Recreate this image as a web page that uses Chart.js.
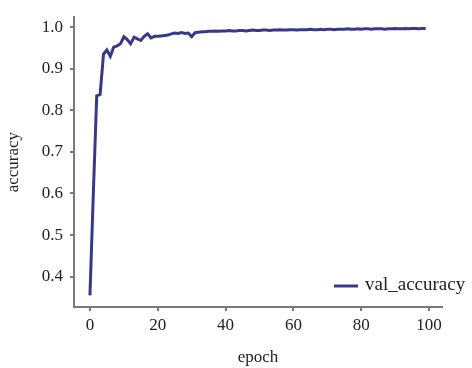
<!DOCTYPE html>
<html>
<head>
<meta charset="utf-8">
<script src="https://cdn.jsdelivr.net/npm/chart.js@4"></script>
<style>
  html, body { margin: 0; padding: 0; background: #fff; }
  #wrap { width: 472px; height: 368px; }
</style>
</head>
<body>
<div id="wrap"><canvas id="accChart" width="472" height="368"></canvas></div>
<script>
// epochs 0..99 and validation accuracy
const epochs = Array.from({ length: 100 }, (_, i) => i);
const valAccuracy = [
  0.355, 0.600, 0.835, 0.838, 0.935, 0.945, 0.930, 0.952, 0.955, 0.960,
  0.977, 0.970, 0.960, 0.976, 0.972, 0.968, 0.978, 0.984, 0.974, 0.978,
  0.978, 0.979, 0.980, 0.981, 0.984, 0.986, 0.985, 0.987, 0.985, 0.986,
  0.977, 0.987, 0.988, 0.989, 0.989, 0.990, 0.990, 0.991, 0.990, 0.991,
  0.991, 0.992, 0.991, 0.991, 0.992, 0.992, 0.991, 0.992, 0.993, 0.992,
  0.992, 0.993, 0.993, 0.992, 0.993, 0.993, 0.994, 0.993, 0.993, 0.994,
  0.994, 0.993, 0.994, 0.994, 0.994, 0.995, 0.994, 0.994, 0.995, 0.994,
  0.995, 0.995, 0.994, 0.995, 0.995, 0.995, 0.996, 0.995, 0.995, 0.996,
  0.995, 0.996, 0.996, 0.995, 0.996, 0.996, 0.996, 0.995, 0.996, 0.996,
  0.997, 0.996, 0.996, 0.997, 0.996, 0.997, 0.997, 0.996, 0.997, 0.997
];
const xTicks = [0, 20, 40, 60, 80, 100];
const yTicks = [0.4, 0.5, 0.6, 0.7, 0.8, 0.9, 1.0];

const lineColor = '#38388a';
const axisColor = '#7a7a7a';
const serif = "'Liberation Serif', 'DejaVu Serif', serif";

// legend drawn inside the plot, lower right
const insideLegend = {
  id: 'insideLegend',
  afterDraw(chart) {
    const c = chart.ctx;
    const ds = chart.data.datasets[0];
    c.save();
    c.strokeStyle = ds.borderColor;
    c.lineWidth = 3;
    c.beginPath();
    c.moveTo(334, 286);
    c.lineTo(358, 286);
    c.stroke();
    c.fillStyle = '#222';
    c.font = '19px ' + serif;
    c.textBaseline = 'middle';
    c.fillText(ds.label, 365, 285);
    c.restore();
  }
};

const ctx = document.getElementById('accChart').getContext('2d');
new Chart(ctx, {
  type: 'line',
  data: {
    labels: epochs,
    datasets: [{
      label: 'val_accuracy',
      data: epochs.map((e, i) => ({ x: e, y: valAccuracy[i] })),
      borderColor: lineColor,
      borderWidth: 3,
      pointRadius: 0,
      tension: 0,
      fill: false
    }]
  },
  options: {
    responsive: false,
    animation: false,
    layout: { padding: { top: 12, right: 30, left: 3, bottom: 0 } },
    plugins: { legend: { display: false }, tooltip: { enabled: false } },
    scales: {
      x: {
        type: 'linear',
        min: -4.7,
        max: 103.8,
        afterBuildTicks: s => { s.ticks = xTicks.map(v => ({ value: v })); },
        afterFit: s => { s.height = 61; },
        grid: { drawOnChartArea: false, drawTicks: true, tickLength: 4, color: axisColor, lineWidth: 2 },
        border: { display: true, color: axisColor, width: 2 },
        ticks: { color: '#222', font: { family: serif, size: 17 }, padding: 4, maxRotation: 0 },
        title: { display: true, text: 'epoch', color: '#222', font: { family: serif, size: 17 }, padding: { top: 0, bottom: 0 } }
      },
      y: {
        type: 'linear',
        min: 0.327,
        max: 1.024,
        afterBuildTicks: s => { s.ticks = yTicks.map(v => ({ value: v })); },
        afterFit: s => { s.width = 71; },
        grid: { drawOnChartArea: false, drawTicks: true, tickLength: 4, color: axisColor, lineWidth: 2 },
        border: { display: true, color: axisColor, width: 2 },
        ticks: { color: '#222', font: { family: serif, size: 17 }, padding: 7, callback: v => v.toFixed(1) },
        title: { display: true, text: 'accuracy', color: '#222', font: { family: serif, size: 17 }, padding: { top: 0, bottom: 0 } }
      }
    }
  },
  plugins: [insideLegend]
});
</script>
</body>
</html>
